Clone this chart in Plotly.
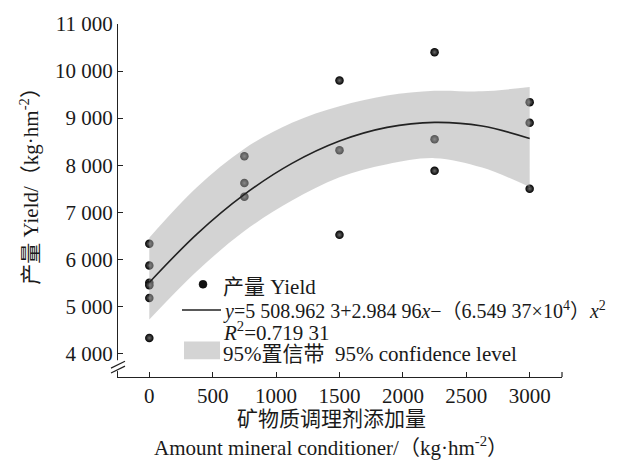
import plotly.graph_objects as go

# ---- data ----
obs_x = [0, 0, 0, 0, 0, 0,
         750, 750, 750,
         1500, 1500, 1500,
         2250, 2250, 2250,
         3000, 3000, 3000]
obs_y = [6330, 5870, 5500, 5450, 5180, 4330,
         8190, 7620, 7330,
         9800, 8320, 6520,
         10400, 8550, 7880,
         9340, 8900, 7500]

fit_x = [0, 375, 750, 1125, 1500, 1875, 2250, 2625, 3000]
fit_y = [5509, 6536, 7379, 8038, 8513, 8803, 8910, 8832, 8569]

band_x = [0, 375, 750, 1125, 1500, 1875, 2250, 2625, 3000]
band_upper = [6460, 7530, 8350, 8900, 9250, 9480, 9580, 9570, 9660]
band_lower = [4720, 5746, 6600, 7250, 7745, 8020, 8150, 7950, 7535]

x_ticks = [0, 500, 1000, 1500, 2000, 2500, 3000]
y_ticks = [4000, 5000, 6000, 7000, 8000, 9000, 10000, 11000]
y_tick_text = ["4 000", "5 000", "6 000", "7 000", "8 000", "9 000", "10 000", "11 000"]

legend_texts = [
    "产量 Yield",
    "<i>y</i>=5 508.962 3+2.984 96<i>x</i>−（6.549 37×10<sup>4</sup>）<i>x</i><sup>2</sup>",
    "<i>R</i><sup>2</sup>=0.719 31",
    "95%置信带  95% confidence level",
]

FONT = "Liberation Serif, Times New Roman, Noto Sans CJK SC, serif"
FS = 21

fig = go.Figure()

fig.add_trace(go.Scatter(
    x=obs_x, y=obs_y, mode="markers",
    marker=dict(size=8.5, color="#000000",
                gradient=dict(type="radial", color="#6a6a6a")),
    name=legend_texts[0], showlegend=False))

fig.add_trace(go.Scatter(
    x=band_x, y=band_lower, mode="lines",
    line=dict(width=0, shape="spline", smoothing=1.0),
    showlegend=False, hoverinfo="skip"))
fig.add_trace(go.Scatter(
    x=band_x, y=band_upper, mode="lines", fill="tonexty",
    fillcolor="rgba(168,168,168,0.5)",
    line=dict(width=0, shape="spline", smoothing=1.0),
    name=legend_texts[3], showlegend=False, hoverinfo="skip"))

fig.add_trace(go.Scatter(
    x=fit_x, y=fit_y, mode="lines",
    line=dict(color="#222222", width=1.6, shape="spline"),
    name="fit", showlegend=False))

X0, X1 = -247, 3255
Y0, Y1 = 3500, 11000
L, T, W, H = 118, 19, 444, 358

fig.update_layout(
    width=619, height=462,
    margin=dict(l=L, r=619 - L - W, t=T, b=462 - T - H),
    paper_bgcolor="white", plot_bgcolor="white",
    font=dict(family=FONT, size=FS, color="#1a1a1a"),
    showlegend=False,
    xaxis=dict(range=[X0, X1], tickvals=x_ticks, ticks="inside", ticklen=5,
               tickcolor="#222", showline=True, linecolor="#222", linewidth=1.2,
               showgrid=False, zeroline=False,
               tickfont=dict(size=FS, family=FONT)),
    yaxis=dict(range=[Y0, Y1], tickvals=y_ticks, ticktext=y_tick_text,
               ticks="inside", ticklen=5, tickcolor="#222",
               showline=True, linecolor="#222", linewidth=1.2,
               showgrid=False, zeroline=False,
               tickfont=dict(size=FS, family=FONT)),
)


def fx(px):
    return (px - L) / W


def fy(py):
    return (T + H - py) / H


# axis titles
fig.add_annotation(text="矿物质调理剂添加量", xref="paper", yref="paper",
                   x=fx(331), y=fy(420), yanchor="middle", showarrow=False,
                   font=dict(size=FS, family=FONT))
fig.add_annotation(text="Amount mineral conditioner/（kg·hm<sup>-2</sup>）",
                   xref="paper", yref="paper", x=fx(331), y=fy(447),
                   yanchor="middle", showarrow=False,
                   font=dict(size=FS, family=FONT))
fig.add_annotation(text="产量 Yield/（kg·hm<sup>-2</sup>）", xref="paper", yref="paper",
                   x=fx(30), y=fy(178), xanchor="center", yanchor="middle",
                   textangle=-90, showarrow=False,
                   font=dict(size=FS, family=FONT))

# legend (drawn manually to match the compact layout)
legend_sizes = [FS, 20, FS, FS]
for txt, py, s in zip(legend_texts, [286, 310, 331, 354], legend_sizes):
    fig.add_annotation(text=txt, xref="paper", yref="paper",
                       x=fx(221), y=fy(py), xanchor="left", yanchor="middle",
                       showarrow=False, font=dict(size=s, family=FONT))
fig.add_shape(type="circle", xref="paper", yref="paper",
              x0=fx(199), x1=fx(207), y0=fy(287), y1=fy(279),
              fillcolor="#111", line=dict(color="#000", width=0.5))
fig.add_shape(type="line", xref="paper", yref="paper",
              x0=fx(182), x1=fx(221), y0=fy(309), y1=fy(309),
              line=dict(color="#222", width=1.6))
fig.add_shape(type="rect", xref="paper", yref="paper",
              x0=fx(184), x1=fx(220), y0=fy(359), y1=fy(341),
              fillcolor="#d4d4d4", line=dict(width=0))

# axis break on y axis and end tick on x axis
fig.add_shape(type="rect", xref="paper", yref="paper",
              x0=fx(116), x1=fx(120), y0=fy(371), y1=fy(360),
              fillcolor="white", line=dict(width=0), layer="above")
for off in (0, 5):
    fig.add_shape(type="line", xref="paper", yref="paper",
                  x0=fx(111), y0=fy(368 + off),
                  x1=fx(125), y1=fy(361 + off),
                  line=dict(color="#222", width=1.2), layer="above")
fig.add_shape(type="line", xref="paper", yref="paper",
              x0=1, x1=1, y0=0, y1=fy(372),
              line=dict(color="#222", width=1.2))

fig.write_html("out.html", config={"displayModeBar": False},
               post_script="document.body.style.margin='0';document.body.style.overflow='hidden';")
